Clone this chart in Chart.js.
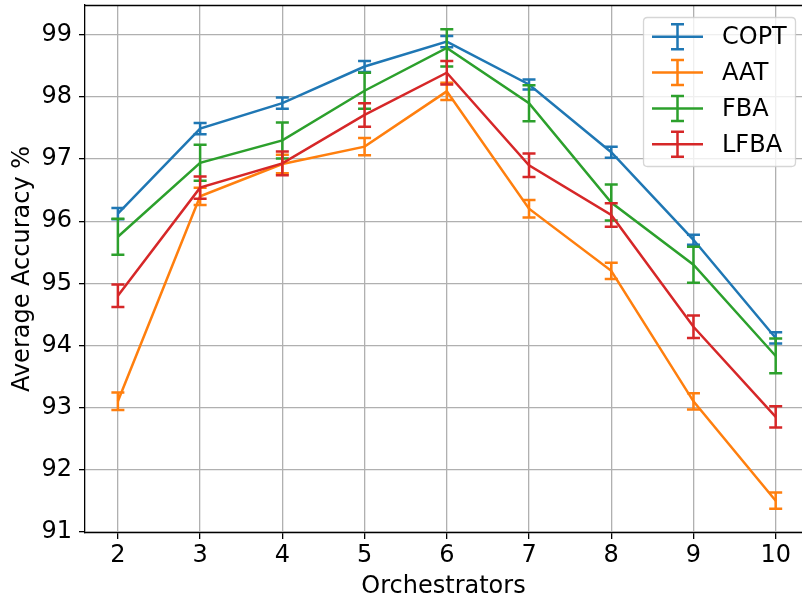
<!DOCTYPE html>
<html>
<head>
<meta charset="utf-8">
<script src="https://cdn.jsdelivr.net/npm/chart.js@4/dist/chart.umd.min.js"></script>
<style>
  html, body { margin: 0; padding: 0; background: #fff; overflow: hidden; }
  #wrap { width: 802px; height: 601px; }
</style>
</head>
<body>
<div id="wrap"><canvas id="c" width="802" height="601"></canvas></div>
<script>
// ---- data ----
const categories = [2, 3, 4, 5, 6, 7, 8, 9, 10];
const yTickValues = [91, 92, 93, 94, 95, 96, 97, 98, 99];
const seriesNames = ['COPT', 'AAT', 'FBA', 'LFBA'];
const coptValues = [96.12, 97.49, 97.90, 98.49, 98.89, 98.20, 97.11, 95.70, 94.12];
const coptErrors = [0.09, 0.09, 0.09, 0.09, 0.09, 0.08, 0.09, 0.08, 0.09];
const aatValues  = [93.10, 96.40, 96.92, 97.20, 98.09, 96.20, 95.20, 93.10, 91.50];
const aatErrors  = [0.14, 0.14, 0.15, 0.14, 0.14, 0.14, 0.13, 0.13, 0.13];
const fbaValues  = [95.75, 96.94, 97.30, 98.10, 98.79, 97.90, 96.30, 95.30, 93.83];
const fbaErrors  = [0.29, 0.29, 0.29, 0.29, 0.30, 0.29, 0.29, 0.29, 0.28];
const lfbaValues = [94.80, 96.54, 96.93, 97.71, 98.39, 96.90, 96.10, 94.30, 92.85];
const lfbaErrors = [0.18, 0.18, 0.19, 0.19, 0.19, 0.19, 0.19, 0.18, 0.17];

const colors = ['#1f77b4', '#ff7f0e', '#2ca02c', '#d62728'];
const allValues = [coptValues, aatValues, fbaValues, lfbaValues];
const allErrors = [coptErrors, aatErrors, fbaErrors, lfbaErrors];

const FONT = '"DejaVu Sans", "Liberation Sans", sans-serif';
const LW = 2.5;
const CAP = 6.5;

const datasets = seriesNames.map((name, i) => ({
  label: name,
  data: categories.map((c, j) => ({ x: c, y: allValues[i][j] })),
  errors: allErrors[i],
  borderColor: colors[i],
  backgroundColor: colors[i],
  borderWidth: LW,
  pointRadius: 0,
  pointHoverRadius: 0,
  tension: 0,
  fill: false,
  order: 3 - i
}));

function drawErrBar(ctx, x, yTop, yBot, color) {
  ctx.save();
  ctx.strokeStyle = color;
  ctx.lineWidth = LW;
  ctx.lineCap = 'butt';
  ctx.beginPath();
  ctx.moveTo(x, yTop); ctx.lineTo(x, yBot);
  ctx.moveTo(x - CAP, yTop); ctx.lineTo(x + CAP, yTop);
  ctx.moveTo(x - CAP, yBot); ctx.lineTo(x + CAP, yBot);
  ctx.stroke();
  ctx.restore();
}

const errorBarPlugin = {
  id: 'errorBars',
  afterDatasetDraw(chart, args) {
    const ds = chart.data.datasets[args.index];
    const xs = chart.scales.x, ys = chart.scales.y;
    const ctx = chart.ctx;
    ds.data.forEach((p, j) => {
      const e = ds.errors[j];
      drawErrBar(ctx, xs.getPixelForValue(p.x), ys.getPixelForValue(p.y + e),
                 ys.getPixelForValue(p.y - e), ds.borderColor);
    });
  }
};

const framePlugin = {
  id: 'frameAndLegend',
  afterDraw(chart) {
    const ctx = chart.ctx;
    const a = chart.chartArea;
    // top spine
    ctx.save();
    ctx.strokeStyle = '#000';
    ctx.lineWidth = 1.3;
    ctx.beginPath();
    ctx.moveTo(a.left, a.top + 0.5);
    ctx.lineTo(a.right, a.top + 0.5);
    ctx.stroke();
    ctx.restore();

    // legend (matplotlib style)
    const bx = 643.5, by = 17.5, bw = 152, bh = 149, r = 4;
    ctx.save();
    ctx.beginPath();
    ctx.moveTo(bx + r, by);
    ctx.lineTo(bx + bw - r, by);
    ctx.quadraticCurveTo(bx + bw, by, bx + bw, by + r);
    ctx.lineTo(bx + bw, by + bh - r);
    ctx.quadraticCurveTo(bx + bw, by + bh, bx + bw - r, by + bh);
    ctx.lineTo(bx + r, by + bh);
    ctx.quadraticCurveTo(bx, by + bh, bx, by + bh - r);
    ctx.lineTo(bx, by + r);
    ctx.quadraticCurveTo(bx, by, bx + r, by);
    ctx.closePath();
    ctx.fillStyle = 'rgba(255,255,255,0.8)';
    ctx.fill();
    ctx.strokeStyle = 'rgba(204,204,204,0.8)';
    ctx.lineWidth = 1.3;
    ctx.stroke();

    const rowY = [36.7, 72.5, 108.4, 144.3];
    chart.data.datasets.forEach((ds, i) => {
      const y = rowY[i];
      ctx.strokeStyle = ds.borderColor;
      ctx.lineWidth = LW;
      ctx.beginPath();
      ctx.moveTo(652, y); ctx.lineTo(703, y);
      ctx.stroke();
      drawErrBar(ctx, 677.5, y - 12.5, y + 12.5, ds.borderColor);
      ctx.fillStyle = '#000';
      ctx.font = '24px ' + FONT;
      ctx.textAlign = 'left';
      ctx.textBaseline = 'middle';
      ctx.fillText(ds.label, 722, y + 1);
    });
    ctx.restore();
  }
};

new Chart(document.getElementById('c'), {
  type: 'line',
  data: { datasets },
  options: {
    responsive: false,
    animation: false,
    events: [],
    layout: { padding: { top: 5, left: 0, right: 0, bottom: 0 } },
    plugins: { legend: { display: false }, tooltip: { enabled: false } },
    scales: {
      x: {
        type: 'linear',
        min: 1.6,
        max: 10.32,
        afterBuildTicks(scale) { scale.ticks = categories.map(v => ({ value: v })); },
        afterFit(scale) { scale.height = 68; scale.paddingLeft = 0; scale.paddingRight = 0; },
        ticks: {
          color: '#000',
          font: { family: FONT, size: 24 },
          padding: 2,
          maxRotation: 0,
          autoSkip: false,
          callback: v => String(v)
        },
        grid: { color: '#b0b0b0', lineWidth: 1.3, tickColor: '#000', tickLength: 6, tickWidth: 1.3 },
        border: { display: true, color: '#000', width: 1.3 },
        title: {
          display: true,
          text: 'Orchestrators',
          color: '#000',
          font: { family: FONT, size: 24 },
          padding: { top: 0, bottom: 0 }
        }
      },
      y: {
        type: 'linear',
        min: 90.98,
        max: 99.48,
        afterBuildTicks(scale) { scale.ticks = yTickValues.map(v => ({ value: v })); },
        afterFit(scale) { scale.width = 85; scale.paddingTop = 0; scale.paddingBottom = 0; },
        ticks: {
          color: '#000',
          font: { family: FONT, size: 24 },
          padding: 7,
          callback: v => String(v)
        },
        grid: { color: '#b0b0b0', lineWidth: 1.3, tickColor: '#000', tickLength: 6, tickWidth: 1.3 },
        border: { display: true, color: '#000', width: 1.3 },
        title: {
          display: true,
          text: 'Average Accuracy %',
          color: '#000',
          font: { family: FONT, size: 24 },
          padding: { top: 8.5, bottom: 0 }
        }
      }
    }
  },
  plugins: [errorBarPlugin, framePlugin]
});
</script>
</body>
</html>
